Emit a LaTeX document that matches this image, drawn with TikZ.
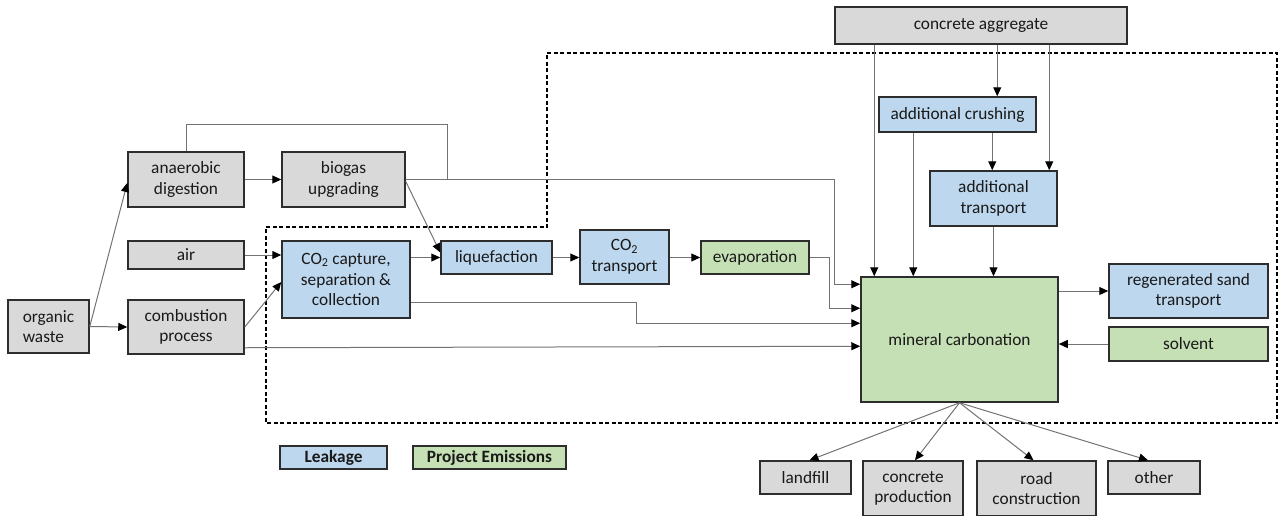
\documentclass[tikz,border=0pt]{standalone}
\usepackage{fontspec}
\setmainfont{Carlito}
\usetikzlibrary{arrows.meta,calc}
\definecolor{gfill}{RGB}{217,217,217}
\definecolor{bfill}{RGB}{189,215,238}
\definecolor{grfill}{RGB}{197,224,180}
\definecolor{edgec}{RGB}{45,45,45}
\definecolor{connc}{RGB}{115,115,115}
\definecolor{txtc}{RGB}{25,25,25}
\newcommand{\myfs}{\fontsize{17.3}{20.7}\selectfont}
\begin{document}
\begin{tikzpicture}[x=1pt,y=-1pt,
  box/.style={draw=edgec, line width=1.5pt, inner sep=0pt, align=center, font=\myfs, text=txtc},
  gbox/.style={box, fill=gfill},
  bbox/.style={box, fill=bfill},
  grbox/.style={box, fill=grfill},
  ln/.style={draw=connc, line width=1pt},
  arr/.style={ln, -{Triangle[length=9pt,width=8pt,black]}},
  bound/.style={draw=black, line width=1.2pt, dash pattern=on 4pt off 2.5pt}]
\useasboundingbox (0,0) rectangle (1278,515);
\clip (0,0) rectangle (1278,515);
% system boundary
\draw[bound] (547,53) -- (1277,53) -- (1277,423) -- (266,423) -- (266,227) -- (547,227) -- cycle;
% nodes
\node[gbox, minimum width=81, minimum height=53, align=left] (org) at (48.5,326.5) {organic\\waste};
\node[gbox, minimum width=116, minimum height=55] (anae) at (186,179.5) {anaerobic\\digestion};
\node[gbox, minimum width=123, minimum height=55] (bio) at (343.5,179.5) {biogas\\upgrading};
\node[gbox, minimum width=116, minimum height=28] (air) at (186,255) {air};
\node[gbox, minimum width=116, minimum height=54] (comb) at (186,327) {combustion\\process};
\node[bbox, minimum width=128, minimum height=77] (cap) at (346,279.5) {CO\textsubscript{2} capture,\\separation \&\\collection};
\node[bbox, minimum width=111, minimum height=33] (liq) at (496.5,257.5) {liquefaction};
\node[bbox, minimum width=89, minimum height=54] (co2t) at (624.5,257) {CO\textsubscript{2}\\transport};
\node[grbox, minimum width=108, minimum height=33] (evap) at (755,257.5) {evaporation};
\node[gbox, minimum width=292, minimum height=37] (ca) at (981,25.5) {concrete aggregate};
\node[bbox, minimum width=157, minimum height=35] (crush) at (957.5,114.5) {additional crushing};
\node[bbox, minimum width=127, minimum height=55] (at) at (993.5,198.5) {additional\\transport};
\node[grbox, minimum width=197, minimum height=125] (mc) at (959.5,339.5) {mineral carbonation};
\node[bbox, minimum width=159, minimum height=54] (regen) at (1188.5,291) {regenerated sand\\transport};
\node[grbox, minimum width=159, minimum height=34] (solv) at (1188.5,344) {solvent};
\node[gbox, minimum width=91, minimum height=33] (land) at (805.5,477.5) {landfill};
\node[gbox, minimum width=100, minimum height=55] (cprod) at (913,488.5) {concrete\\production};
\node[gbox, minimum width=119, minimum height=55] (road) at (1036.5,488.5) {road\\construction};
\node[gbox, minimum width=92, minimum height=33] (other) at (1154,477.5) {other};
\node[bbox, minimum width=107, minimum height=23, font=\myfs\bfseries] (legL) at (333.5,457.5) {Leakage};
\node[grbox, minimum width=153, minimum height=23, font=\myfs\bfseries] (legP) at (489.5,457.5) {Project Emissions};
% helper coordinates
\coordinate (byp) at (447,124);
\coordinate (ca1) at ($(ca.south west)+(40,0)$);
\coordinate (ca2) at ($(ca.south west)+(163,0)$);
\coordinate (ca3) at ($(ca.south west)+(215,0)$);
\coordinate (cr1) at ($(crush.south west)+(35,0)$);
\coordinate (cr2) at ($(crush.south west)+(114,0)$);
% connectors
\draw[arr] (org.east) -- ($(anae.west)+(0,3.5)$);
\draw[arr] (org.east) -- (comb.west);
\draw[arr] (anae.east) -- (bio.west);
\draw[ln] (anae.north) |- (byp) -- (byp |- bio.east);
\draw[arr] (bio.east) -| ($(mc.north west)+(-26,8)$) -- ($(mc.north west)+(0,8)$);
\draw[arr] ($(bio.east)+(0,2)$) -- ($(liq.west)+(0,-5)$);
\draw[arr] (air.east) -- (cap.west |- air.east);
\draw[arr] (comb.east) -- ($(cap.west)+(0,2.5)$);
\draw[arr] ($(comb.south east)+(0,-7)$) -- ($(mc.north west)+(0,70)$);
\draw[arr] (cap.east |- liq.west) -- (liq.west);
\draw[arr] ($(cap.south east)+(0,-16)$) -- ++(226,0) |- ($(mc.north west)+(0,47)$);
\draw[arr] (liq.east) -- (co2t.west |- liq.east);
\draw[arr] (co2t.east |- evap.west) -- (evap.west);
\draw[arr] (evap.east) -- ++(20,0) |- ($(mc.north west)+(0,32)$);
\draw[arr] (ca1) -- (ca1 |- mc.north);
\draw[arr] (ca2) -- (ca2 |- crush.north);
\draw[arr] (ca3) -- (ca3 |- at.north);
\draw[arr] (cr1) -- (cr1 |- mc.north);
\draw[arr] (cr2) -- (cr2 |- at.north);
\draw[arr] (at.south) -- (at.south |- mc.north);
\draw[arr] (mc.east |- regen.west) -- (regen.west);
\draw[arr] (solv.west) -- (mc.east |- solv.west);
\draw[arr] (mc.south) -- ($(land.north)+(4,0)$);
\draw[arr] (mc.south) -- ($(cprod.north)+(2,0)$);
\draw[arr] (mc.south) -- ($(road.north)+(-3,0)$);
\draw[arr] (mc.south) -- ($(other.north)+(-6,0)$);
\end{tikzpicture}
\end{document}
